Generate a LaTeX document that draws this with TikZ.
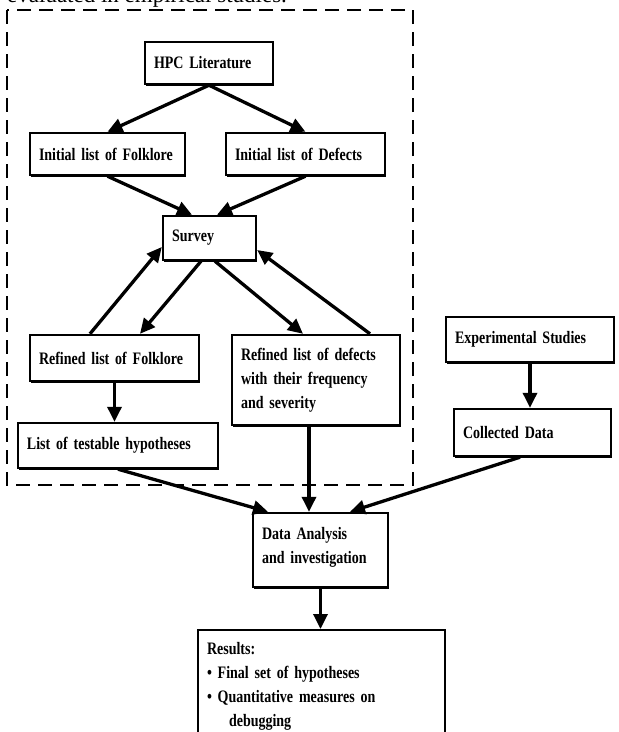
\documentclass[tikz,border=0pt]{standalone}
\usepackage{fontspec}
\setmainfont{Liberation Serif}
\newfontfamily\boxfont{Liberation Serif}[FakeStretch=0.8]
\usetikzlibrary{arrows.meta,positioning,shadows}
\tikzset{blk/.style={draw,line width=2.4pt,fill=white,inner xsep=9pt,inner ysep=4pt,align=left,
    drop shadow={shadow xshift=0.8pt,shadow yshift=-1.6pt,fill=black,opacity=1},
    font=\boxfont\bfseries\fontsize{17.5}{24}\selectfont}}
\tikzset{arr/.style={line width=3.3pt,-{Triangle[length=15pt,width=14pt]}}}

\begin{document}
\begin{tikzpicture}[x=1pt,y=-1pt]
    \useasboundingbox (0,0) rectangle (619,732);
    \node[anchor=base west,inner sep=0pt,font=\fontsize{23}{26}\selectfont] (note) at (7,2) {evaluated in empirical studies.};
    \draw[line width=2.6pt,dash pattern=on 14pt off 8pt] (7,10) rectangle (413,485);

    \node[blk,text width=110pt,minimum height=42pt] (lit) at (209,63) {HPC Literature};
    \node[blk,text width=137pt,minimum height=42pt] (ifolk) at (107.5,154) {Initial list of Folklore};
    \node[blk,text width=141pt,minimum height=42pt] (idef) at (305.5,154) {Initial list of Defects};
    \node[blk,text width=75pt,minimum height=44pt] (survey) at (209.5,238) {Survey};
    \node[blk,text width=151pt,minimum height=46pt] (rfolk) at (114.5,358) {Refined list of Folklore};
    \node[blk,text width=182pt,minimum height=45pt] (hyp) at (118,445.5) {List of testable hypotheses};
    \node[blk,text width=150pt,minimum height=90pt] (rdef) at (316,380) {Refined list of defects\\with their frequency\\and severity};
    \node[blk,text width=150pt,minimum height=45pt] (exp) at (530,339.5) {Experimental Studies};
    \node[blk,text width=139pt,minimum height=47pt] (coll) at (532.5,432.5) {Collected Data};
    \node[blk,text width=117pt,minimum height=74pt] (ana) at (320.5,550) {Data Analysis\\and investigation\rule[-10pt]{0pt}{0pt}};
    \node[blk,text width=229pt,inner ysep=12pt,anchor=north] (res) at (321.5,629) {Results:\\\textbullet\ Final set of hypotheses\\\textbullet\ Quantitative measures on\\\hspace*{22pt}debugging\rule[-40pt]{0pt}{0pt}};

    \draw[arr] (lit.south) -- (ifolk.north);
    \draw[arr] (lit.south) -- (idef.north);
    \draw[arr] (ifolk.south) -- ([xshift=-17.5pt]survey.north);
    \draw[arr] (idef.south) -- ([xshift=7.5pt]survey.north);
    \draw[arr] ([xshift=-8.5pt]survey.south) -- ([xshift=25.5pt]rfolk.north);
    \draw[arr] ([xshift=-24.5pt]rfolk.north) -- ([yshift=-9pt]survey.west);
    \draw[arr] ([xshift=5.5pt]survey.south) -- ([xshift=-13pt]rdef.north);
    \draw[arr] ([xshift=54pt]rdef.north) -- ([yshift=-12pt]survey.east);
    \draw[arr] (rfolk.south) -- (rfolk.south |- hyp.north);
    \draw[arr] (hyp.south) -- ([xshift=-52.5pt]ana.north);
    \draw[arr] ([xshift=-7pt]rdef.south) -- ([xshift=-7pt]rdef.south |- ana.north);
    \draw[arr] ([xshift=-12.5pt]coll.south) -- ([xshift=29.5pt]ana.north);
    \draw[arr] (exp.south) -- (exp.south |- coll.north);
    \draw[arr] (ana.south) -- (ana.south |- res.north);
\end{tikzpicture}
\end{document}
